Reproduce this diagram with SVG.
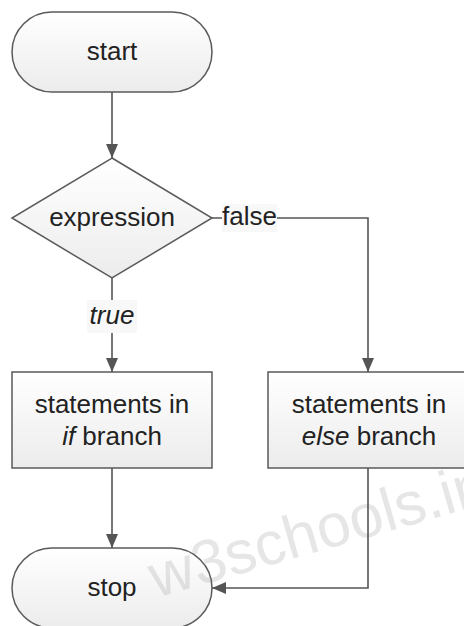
<svg xmlns="http://www.w3.org/2000/svg" width="464" height="626" viewBox="0 0 464 626">
<defs>
<linearGradient id="g" x1="0" y1="0" x2="0" y2="1">
<stop offset="0" stop-color="#ffffff"/>
<stop offset="1" stop-color="#ececec"/>
</linearGradient>
<marker id="arr" markerUnits="userSpaceOnUse" markerWidth="14" markerHeight="14" viewBox="0 0 14 14" refX="14" refY="7" orient="auto">
<path d="M0,1 L14,7 L0,13 Z" fill="#555"/>
</marker>
</defs>
<style>
.n{fill:url(#g);stroke:#5a5a5a;stroke-width:1.5}
.t{font-family:"Liberation Sans",Arial,sans-serif;font-size:26px;fill:#222;text-anchor:middle}
.c{fill:none;stroke:#555;stroke-width:1.6}
.lb{fill:#f8f8f8}
</style>
<rect width="464" height="626" fill="#ffffff"/>
<g id="start">
<rect class="n" x="12" y="12" width="200" height="80" rx="40"/>
<text class="t" x="112" y="60">start</text>
</g>
<g id="expression">
<polygon class="n" points="112,158 212,218 112,278 12,218"/>
<text class="t" x="112" y="226">expression</text>
</g>
<g id="if-branch">
<rect class="n" x="12" y="372" width="200" height="96"/>
<text class="t" x="112" y="413">statements in</text>
<text class="t" x="112" y="445"><tspan font-style="italic">if</tspan> branch</text>
</g>
<g id="else-branch">
<rect class="n" x="268" y="372" width="202" height="96"/>
<text class="t" x="369" y="413">statements in</text>
<text class="t" x="369" y="445"><tspan font-style="italic">else</tspan> branch</text>
</g>
<g id="stop">
<rect class="n" x="12" y="548" width="200" height="80" rx="40"/>
<text class="t" x="112" y="596">stop</text>
</g>
<text x="156" y="598" transform="rotate(-16 156 598)" font-family="'Liberation Sans',Arial,sans-serif" font-size="61" fill="#808080" fill-opacity="0.2">w3schools.in</text>
<g id="connectors">
<path class="c" d="M112 92 V158" marker-end="url(#arr)"/>
<path class="c" d="M112 278 V372" marker-end="url(#arr)"/>
<path class="c" d="M212 218 H368 V372" marker-end="url(#arr)"/>
<path class="c" d="M112 468 V548" marker-end="url(#arr)"/>
<path class="c" d="M368 468 V588 H212" marker-end="url(#arr)"/>
<rect class="lb" x="222" y="204" width="55" height="28"/>
<text class="t" x="249.5" y="225">false</text>
<rect class="lb" x="87" y="300" width="50" height="33"/>
<text class="t" x="112" y="324" font-style="italic">true</text>
</g>
</svg>
